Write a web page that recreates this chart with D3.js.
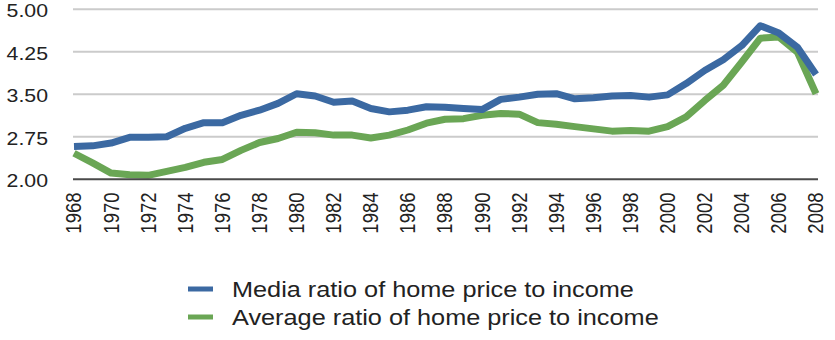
<!DOCTYPE html>
<html>
<head>
<meta charset="utf-8">
<script src="https://cdn.jsdelivr.net/npm/d3@7"></script>
<style>
  body { margin: 0; background: #fff; }
  svg { display: block; font-family: "Liberation Sans", Arial, sans-serif; }
</style>
</head>
<body>
<div id="chart"></div>
<script>
const years = d3.range(1968, 2009);
const median = [2.58, 2.59, 2.64, 2.74, 2.74, 2.75, 2.90, 3.00, 3.00, 3.13, 3.22,
  3.34, 3.51, 3.47, 3.36, 3.38, 3.25, 3.19, 3.22, 3.28, 3.27, 3.25, 3.23, 3.41,
  3.45, 3.50, 3.51, 3.42, 3.44, 3.47, 3.48, 3.45, 3.49, 3.69, 3.92, 4.11, 4.36,
  4.71, 4.58, 4.33, 3.85];
const average = [2.46, 2.29, 2.11, 2.08, 2.07, 2.14, 2.21, 2.30, 2.35, 2.51, 2.65,
  2.72, 2.83, 2.82, 2.78, 2.78, 2.73, 2.78, 2.87, 2.99, 3.06, 3.07, 3.13, 3.16,
  3.15, 3.00, 2.97, 2.93, 2.89, 2.85, 2.86, 2.85, 2.93, 3.10, 3.39, 3.66, 4.07,
  4.49, 4.51, 4.24, 3.51];
const yTicks = [2.00, 2.75, 3.50, 4.25, 5.00];
const xTicks = d3.range(1968, 2009, 2);
const seriesNames = ["Media ratio of home price to income", "Average ratio of home price to income"];
const colors = ["#3b69a2", "#6aa655"];

const width = 835, height = 340;
// the source picture is a bit wider than tall, text is stretched to match
const stretch = 1.15;

const svg = d3.select('#chart').append('svg')
  .attr('width', width)
  .attr('height', height);

const x = d3.scaleLinear().domain([1968, 2008]).range([74, 816]);
const y = d3.scaleLinear().domain([2, 5]).range([179.3, 9.3]);

// gridlines
svg.append('g')
  .selectAll('line')
  .data(yTicks.slice(1))
  .join('line')
  .attr('x1', 73).attr('x2', 818)
  .attr('y1', d => y(d)).attr('y2', d => y(d))
  .attr('stroke', '#cbcbcb')
  .attr('stroke-width', 2);

// y labels
svg.append('g')
  .selectAll('text')
  .data(yTicks)
  .join('text')
  .attr('transform', d => `translate(48,${y(d) + 1.3}) scale(${stretch},1)`)
  .attr('dy', '0.35em')
  .attr('text-anchor', 'end')
  .attr('font-size', 18.5)
  .attr('fill', '#222')
  .text(d => d.toFixed(2));

// x labels, rotated
svg.append('g')
  .selectAll('text')
  .data(xTicks)
  .join('text')
  .attr('transform', d => `translate(${x(d)},192.5) scale(${stretch},1) rotate(-90)`)
  .attr('dy', '0.35em')
  .attr('text-anchor', 'end')
  .attr('font-size', 18.5)
  .attr('fill', '#222')
  .text(d => d);

const line = d3.line()
  .x((d, i) => x(years[i]))
  .y(d => y(d));

[average, median].forEach((vals, k) => {
  svg.append('path')
    .datum(vals)
    .attr('d', line)
    .attr('fill', 'none')
    .attr('stroke', colors[1 - k])
    .attr('stroke-width', 7)
    .attr('stroke-linejoin', 'round');
});

// axis line at 2.00
svg.append('line')
  .attr('x1', 73).attr('x2', 818)
  .attr('y1', y(2)).attr('y2', y(2))
  .attr('stroke', '#4a4a4a')
  .attr('stroke-width', 2);

// legend
const legend = svg.append('g')
  .selectAll('g')
  .data(seriesNames)
  .join('g')
  .attr('transform', (d, i) => `translate(188,${289 + i * 28})`);
legend.append('line')
  .attr('x1', 0).attr('x2', 25)
  .attr('stroke', (d, i) => colors[i])
  .attr('stroke-width', 5);
legend.append('text')
  .attr('transform', `translate(44,0) scale(${stretch},1)`)
  .attr('dy', '0.35em')
  .attr('font-size', 22)
  .attr('fill', '#222')
  .text(d => d);
</script>
</body>
</html>
